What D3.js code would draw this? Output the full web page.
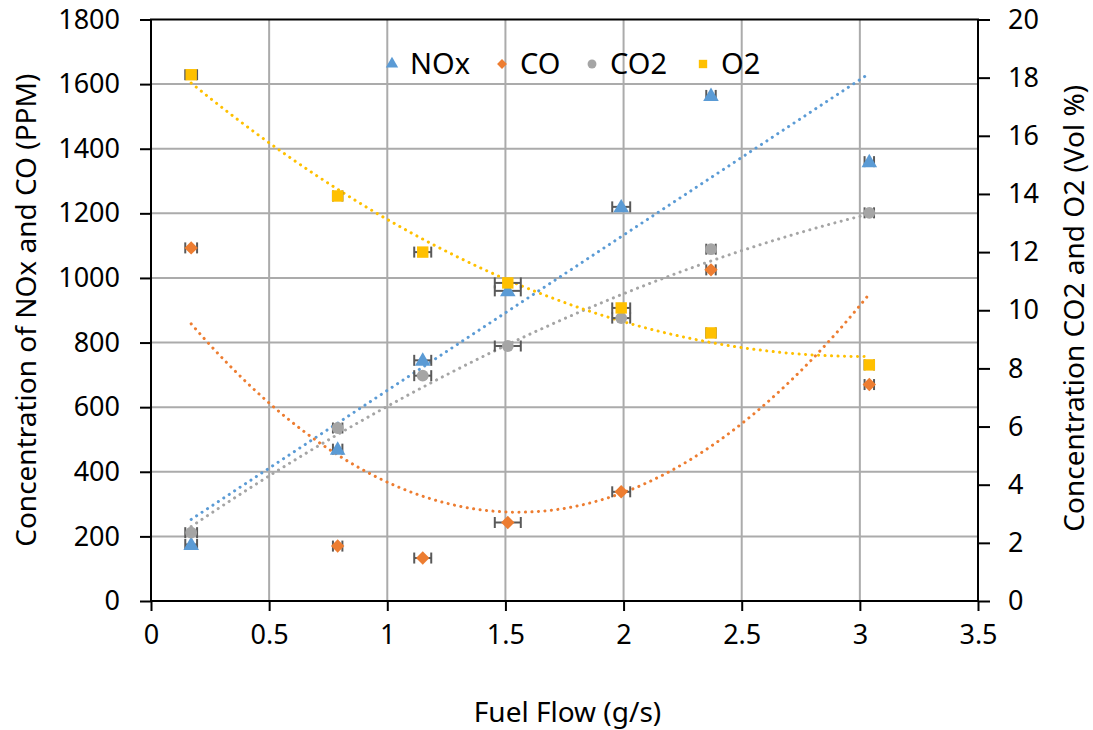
<!DOCTYPE html>
<html>
<head>
<meta charset="utf-8">
<script src="https://cdn.jsdelivr.net/npm/d3@7/dist/d3.min.js"></script>
<style>
  body { margin: 0; background: #fff; }
  text { font-family: "Noto Sans", "Open Sans", sans-serif; fill: #000; }
</style>
</head>
<body>
<div id="chart"></div>
<script>
// fuel flow (g/s) and its spread
var fuelFlow = [0.17, 0.79, 1.15, 1.51, 1.99, 2.37, 3.04];
var fuelErr  = [0.025, 0.02, 0.036, 0.055, 0.038, 0.02, 0.02];

// left axis (PPM)
var nox = [175, 470, 745, 960, 1220, 1565, 1360];
var co  = [1093, 170, 133, 243, 338, 1025, 670];
// right axis (Vol %)
var co2 = [2.35, 5.95, 7.75, 8.77, 9.73, 12.1, 13.35];
var o2  = [18.1, 13.93, 12.0, 10.94, 10.08, 9.22, 8.12];

var xTicks = [0, 0.5, 1, 1.5, 2, 2.5, 3, 3.5];
var yLeftTicks = [0, 200, 400, 600, 800, 1000, 1200, 1400, 1600, 1800];
var yRightTicks = [0, 2, 4, 6, 8, 10, 12, 14, 16, 18, 20];

var width = 1093,
    height = 730;
var pLeft = 151, pRight = 978, pTop = 19.5, pBottom = 601;

var svg = d3.select("#chart")
  .append("svg")
    .attr("width", width)
    .attr("height", height);

var x = d3.scaleLinear().domain([0, 3.5]).range([pLeft, pRight]);
var yL = d3.scaleLinear().domain([0, 1800]).range([pBottom, pTop]);
var yR = d3.scaleLinear().domain([0, 20]).range([pBottom, pTop]);

var series = [
  {name: "NOx", values: nox, scale: yL, color: "#5B9BD5", shape: d3.symbolTriangle, size: 105, legSize: 66, order: 1},
  {name: "CO",  values: co,  scale: yL, color: "#ED7D31", shape: d3.symbolDiamond2, size: 115, legSize: 62, order: 2},
  {name: "CO2", values: co2, scale: yR, color: "#A5A5A5", shape: d3.symbolCircle,   size: 110, legSize: 62, order: 2},
  {name: "O2",  values: o2,  scale: yR, color: "#FFC000", shape: d3.symbolSquare,   size: 130, legSize: 70, order: 2}
];

// gridlines
svg.append("g")
  .selectAll("line")
  .data(xTicks.slice(1, -1))
  .enter().append("line")
    .attr("x1", d => x(d)).attr("x2", d => x(d))
    .attr("y1", pTop).attr("y2", pBottom)
    .attr("stroke", "#ababab").attr("stroke-width", 2);
svg.append("g")
  .selectAll("line")
  .data(yLeftTicks.slice(1, -1))
  .enter().append("line")
    .attr("x1", pLeft).attr("x2", pRight)
    .attr("y1", d => yL(d)).attr("y2", d => yL(d))
    .attr("stroke", "#ababab").attr("stroke-width", 2);

// least squares polynomial fit
function polyfit(xs, ys, deg) {
  var n = deg + 1;
  var A = [], b = [];
  for (var i = 0; i < n; i++) {
    A.push([]);
    for (var j = 0; j < n; j++) A[i].push(d3.sum(xs, v => Math.pow(v, i + j)));
    b.push(d3.sum(xs, (v, k) => Math.pow(v, i) * ys[k]));
  }
  for (var c = 0; c < n; c++) {
    for (var r = c + 1; r < n; r++) {
      var f = A[r][c] / A[c][c];
      for (var k = c; k < n; k++) A[r][k] -= f * A[c][k];
      b[r] -= f * b[c];
    }
  }
  var coef = new Array(n);
  for (var r2 = n - 1; r2 >= 0; r2--) {
    var s = b[r2];
    for (var k2 = r2 + 1; k2 < n; k2++) s -= A[r2][k2] * coef[k2];
    coef[r2] = s / A[r2][r2];
  }
  return function(v) { return d3.sum(coef, (cf, i) => cf * Math.pow(v, i)); };
}

// trendlines
var xs = d3.range(0, 101).map(i => fuelFlow[0] + (fuelFlow[6] - fuelFlow[0]) * i / 100);
series.forEach(function(s) {
  var fit = polyfit(fuelFlow, s.values, s.order);
  svg.append("path")
    .datum(xs)
    .attr("fill", "none")
    .attr("stroke", s.color)
    .attr("stroke-width", 3)
    .attr("stroke-linecap", "round")
    .attr("stroke-dasharray", "0.1 6.4")
    .attr("d", d3.line().x(d => x(d)).y(d => s.scale(fit(d))));
});

// error bars
series.forEach(function(s) {
  var g = svg.append("g").attr("stroke", "#595959").attr("stroke-width", 2);
  fuelFlow.forEach(function(fx, i) {
    var cy = s.scale(s.values[i]);
    var x0 = x(fx - fuelErr[i]), x1 = x(fx + fuelErr[i]);
    g.append("line").attr("x1", x0).attr("x2", x1).attr("y1", cy).attr("y2", cy);
    g.append("line").attr("x1", x0).attr("x2", x0).attr("y1", cy - 5.5).attr("y2", cy + 5.5);
    g.append("line").attr("x1", x1).attr("x2", x1).attr("y1", cy - 5.5).attr("y2", cy + 5.5);
  });
});

// markers
series.forEach(function(s) {
  svg.append("g")
    .selectAll("path")
    .data(s.values)
    .enter().append("path")
      .attr("d", d3.symbol().type(s.shape).size(s.size))
      .attr("transform", (d, i) => "translate(" + x(fuelFlow[i]) + "," + (s.scale(d) + (s.shape === d3.symbolTriangle ? 1 : 0)) + ")")
      .attr("fill", s.color);
});

// frame
svg.append("rect")
  .attr("x", pLeft).attr("y", pTop)
  .attr("width", pRight - pLeft).attr("height", pBottom - pTop)
  .attr("fill", "none").attr("stroke", "#000").attr("stroke-width", 2);

// axes
var fontSize = 27;
var xAxis = svg.append("g")
  .attr("transform", "translate(0," + pBottom + ")")
  .call(d3.axisBottom(x).tickValues(xTicks).tickSize(10).tickPadding(14).tickFormat(d3.format("")));
var yAxisL = svg.append("g")
  .attr("transform", "translate(" + pLeft + ",0)")
  .call(d3.axisLeft(yL).tickValues(yLeftTicks).tickSize(11).tickPadding(20).tickFormat(d3.format("")));
var yAxisR = svg.append("g")
  .attr("transform", "translate(" + pRight + ",0)")
  .call(d3.axisRight(yR).tickValues(yRightTicks).tickSize(12).tickPadding(18).tickFormat(d3.format("")));
[xAxis, yAxisL, yAxisR].forEach(function(a) {
  a.select(".domain").remove();
  a.selectAll(".tick line").attr("stroke", "#000").attr("stroke-width", 2);
  a.selectAll(".tick text")
    .style("font-family", "'Noto Sans', sans-serif")
    .style("font-size", fontSize + "px")
    .attr("fill", "#000");
});

// axis titles
svg.append("text")
  .attr("x", (pLeft + pRight) / 2 + 3).attr("y", 722)
  .attr("text-anchor", "middle")
  .style("font-size", "28px")
  .text("Fuel Flow (g/s)");
svg.append("text")
  .attr("transform", "translate(36," + (pBottom + pTop) / 2 + ") rotate(-90)")
  .attr("text-anchor", "middle")
  .style("font-size", "28px")
  .text("Concentration of NOx and CO (PPM)");
svg.append("text")
  .attr("transform", "translate(1084," + ((pBottom + pTop) / 2 - 2) + ") rotate(-90)")
  .attr("text-anchor", "middle")
  .style("font-size", "28px")
  .text("Concentration CO2 and O2 (Vol %)");

// legend
var legX = [392, 502, 592, 703];
var legend = svg.append("g")
  .selectAll("g")
  .data(series)
  .enter().append("g")
    .attr("transform", (d, i) => "translate(" + legX[i] + ",64)");
legend.append("path")
  .attr("d", d => d3.symbol().type(d.shape).size(d.legSize)())
  .attr("fill", d => d.color);
legend.append("text")
  .attr("x", 18).attr("y", 10)
  .style("font-size", "29px")
  .text(d => d.name);
</script>
</body>
</html>
